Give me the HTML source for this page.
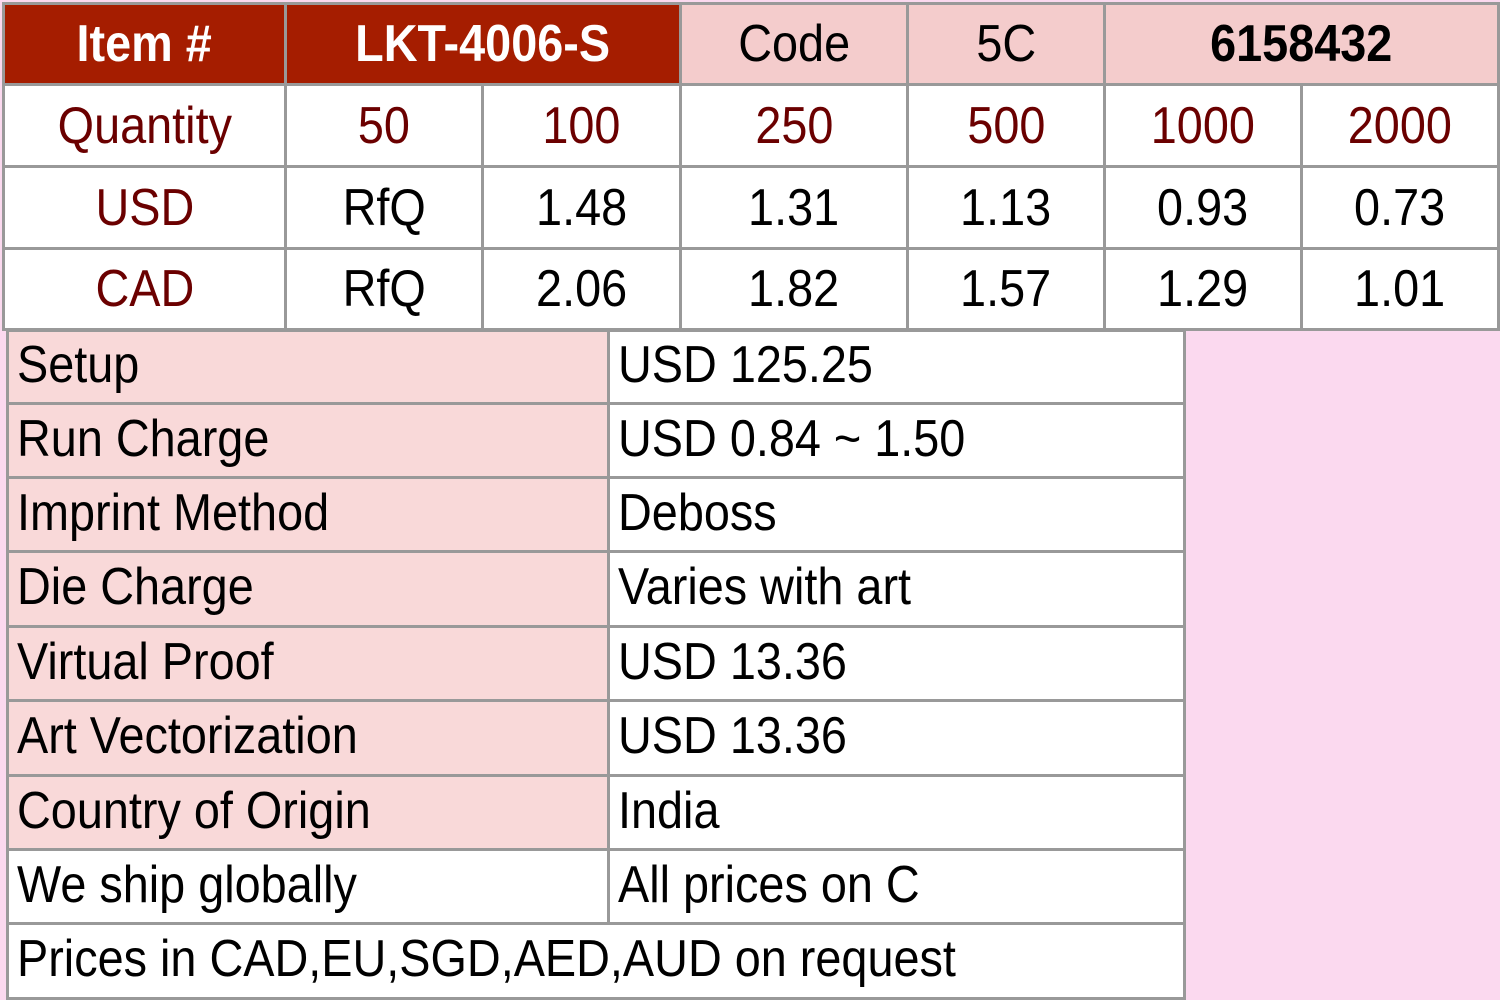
<!DOCTYPE html>
<html><head><meta charset="utf-8"><style>
html,body{margin:0;padding:0;}
body{width:1500px;height:1000px;background:#fbd9ef;position:relative;overflow:hidden;font-family:"Liberation Sans",sans-serif;}
.c{position:absolute;box-sizing:border-box;border:3px solid #999;font-size:52px;line-height:1;display:flex;align-items:center;justify-content:center;white-space:nowrap;background:#fff;color:#000;}
.c span{display:inline-block;transform:scaleX(.9);}
.h{background:#a51d00;color:#fff;font-weight:bold;}
.p{background:#f4cccc;}
.r{color:#6b0000;}
.l{justify-content:flex-start;padding-left:8px;padding-bottom:4px;}
.l span{transform-origin:left center;}
.q{background:#f9d9d9;}
</style></head><body>
<div class="c h" style="left:2px;top:2px;width:285px;height:84px"><span>Item #</span></div>
<div class="c h" style="left:284px;top:2px;width:398px;height:84px"><span>LKT-4006-S</span></div>
<div class="c p" style="left:679px;top:2px;width:230px;height:84px"><span>Code</span></div>
<div class="c p" style="left:906px;top:2px;width:200px;height:84px"><span>5C</span></div>
<div class="c p" style="left:1103px;top:2px;width:397px;height:84px;font-weight:bold"><span>6158432</span></div>

<div class="c r" style="left:2px;top:83px;width:285px;height:85px"><span>Quantity</span></div>
<div class="c r" style="left:284px;top:83px;width:200px;height:85px"><span>50</span></div>
<div class="c r" style="left:481px;top:83px;width:201px;height:85px"><span>100</span></div>
<div class="c r" style="left:679px;top:83px;width:230px;height:85px"><span>250</span></div>
<div class="c r" style="left:906px;top:83px;width:200px;height:85px"><span>500</span></div>
<div class="c r" style="left:1103px;top:83px;width:200px;height:85px"><span>1000</span></div>
<div class="c r" style="left:1300px;top:83px;width:200px;height:85px"><span>2000</span></div>

<div class="c r" style="left:2px;top:165px;width:285px;height:85px"><span>USD</span></div>
<div class="c" style="left:284px;top:165px;width:200px;height:85px"><span>RfQ</span></div>
<div class="c" style="left:481px;top:165px;width:201px;height:85px"><span>1.48</span></div>
<div class="c" style="left:679px;top:165px;width:230px;height:85px"><span>1.31</span></div>
<div class="c" style="left:906px;top:165px;width:200px;height:85px"><span>1.13</span></div>
<div class="c" style="left:1103px;top:165px;width:200px;height:85px"><span>0.93</span></div>
<div class="c" style="left:1300px;top:165px;width:200px;height:85px"><span>0.73</span></div>

<div class="c r" style="left:2px;top:247px;width:285px;height:84px"><span>CAD</span></div>
<div class="c" style="left:284px;top:247px;width:200px;height:84px"><span>RfQ</span></div>
<div class="c" style="left:481px;top:247px;width:201px;height:84px"><span>2.06</span></div>
<div class="c" style="left:679px;top:247px;width:230px;height:84px"><span>1.82</span></div>
<div class="c" style="left:906px;top:247px;width:200px;height:84px"><span>1.57</span></div>
<div class="c" style="left:1103px;top:247px;width:200px;height:84px"><span>1.29</span></div>
<div class="c" style="left:1300px;top:247px;width:200px;height:84px"><span>1.01</span></div>

<div class="c q l" style="left:6px;top:329px;width:604px;height:76px"><span>Setup</span></div>
<div class="c l" style="left:607px;top:329px;width:579px;height:76px"><span>USD 125.25</span></div>
<div class="c q l" style="left:6px;top:402px;width:604px;height:77px"><span>Run Charge</span></div>
<div class="c l" style="left:607px;top:402px;width:579px;height:77px"><span>USD 0.84 ~ 1.50</span></div>
<div class="c q l" style="left:6px;top:476px;width:604px;height:77px"><span>Imprint Method</span></div>
<div class="c l" style="left:607px;top:476px;width:579px;height:77px"><span>Deboss</span></div>
<div class="c q l" style="left:6px;top:550px;width:604px;height:78px"><span>Die Charge</span></div>
<div class="c l" style="left:607px;top:550px;width:579px;height:78px"><span>Varies with art</span></div>
<div class="c q l" style="left:6px;top:625px;width:604px;height:77px"><span>Virtual Proof</span></div>
<div class="c l" style="left:607px;top:625px;width:579px;height:77px"><span>USD 13.36</span></div>
<div class="c q l" style="left:6px;top:699px;width:604px;height:78px"><span>Art Vectorization</span></div>
<div class="c l" style="left:607px;top:699px;width:579px;height:78px"><span>USD 13.36</span></div>
<div class="c q l" style="left:6px;top:774px;width:604px;height:77px"><span>Country of Origin</span></div>
<div class="c l" style="left:607px;top:774px;width:579px;height:77px"><span>India</span></div>
<div class="c l" style="left:6px;top:848px;width:604px;height:77px"><span>We ship globally</span></div>
<div class="c l" style="left:607px;top:848px;width:579px;height:77px"><span>All prices on C</span></div>
<div class="c l" style="left:6px;top:922px;width:1180px;height:78px"><span>Prices in CAD,EU,SGD,AED,AUD on request</span></div>
</body></html>
